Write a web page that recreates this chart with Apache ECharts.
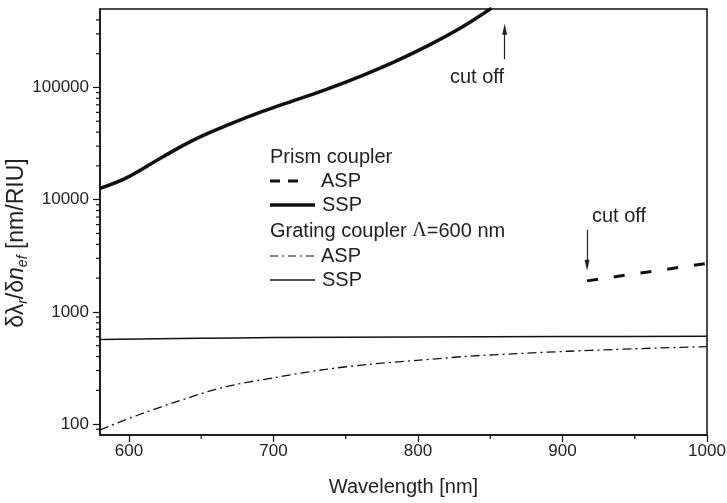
<!DOCTYPE html>
<html>
<head>
<meta charset="utf-8">
<script src="https://cdn.jsdelivr.net/npm/echarts@6/dist/echarts.min.js"></script>
<style>
  html, body { margin: 0; padding: 0; background: #fff; }
  #chart { width: 727px; height: 503px; }
</style>
</head>
<body>
<div id="chart"></div>
<script>
// Prism coupler, symmetric surface plasmon (ends at cut off near 850 nm)
const wlPrismSSP  = [580, 599, 623, 646, 669, 692, 715, 738, 761, 784, 807, 830, 851];
const valPrismSSP = [12600, 15800, 23900, 34600, 46600, 60800, 77000, 97600, 127000, 170000, 236000, 342000, 510000];

// Prism coupler, antisymmetric surface plasmon (starts at cut off near 917 nm)
const wlPrismASP  = [917, 958, 1000];
const valPrismASP = [1890, 2260, 2705];

// Grating coupler, period 600 nm
const wlGratingASP  = [580, 606, 632, 666, 701, 735, 766, 801, 835, 869, 904, 935, 967, 1000];
const valGratingASP = [89, 120, 157, 214, 260, 306, 341, 371, 403, 425, 446, 462, 477, 491];
const wlGratingSSP  = [580, 650, 700, 800, 900, 1000];
const valGratingSSP = [567, 582, 590, 598, 603, 607];

// Axis ranges and minor tick values
const xRange = [580, 1000];
const yRange = [80, 500000];
const xMinorTicks = [650, 750, 850, 950];
const yMinorTicks = [90, 200, 300, 400, 500, 600, 700, 800, 900,
                     2000, 3000, 4000, 5000, 6000, 7000, 8000, 9000,
                     20000, 30000, 40000, 50000, 60000, 70000, 80000, 90000,
                     200000, 300000, 400000];

// Cut-off arrows: [wavelength, from value, to value]
const cutoffPrism = [860, 178000, 330000];
const cutoffASP = [917, 5400, 2600];

const zip = (xs, ys) => xs.map((x, i) => [x, ys[i]]);

const INK = '#111';
const TEXT = '#222';
const FONT = '"Liberation Sans", Arial, sans-serif';

function arrow(spec) {
  return [[
    { coord: [spec[0], spec[1]], symbol: 'none' },
    { coord: [spec[0], spec[2]], symbol: 'triangle', symbolSize: [5, 11] }
  ]];
}

const chart = echarts.init(document.getElementById('chart'), null, { renderer: 'canvas' });

const option = {
  animation: false,
  backgroundColor: '#fff',
  textStyle: { fontFamily: FONT, color: TEXT },
  grid: {
    left: 100, right: 20, top: 9, bottom: 68,
    outerBoundsMode: 'none', containLabel: false,
    show: true, borderColor: INK, borderWidth: 1.5, backgroundColor: 'transparent'
  },
  xAxis: {
    type: 'value',
    min: xRange[0], max: xRange[1],
    name: 'Wavelength [nm]',
    nameLocation: 'middle', nameGap: 42,
    nameTextStyle: { fontSize: 20, color: TEXT, fontFamily: FONT },
    axisLine: { lineStyle: { color: INK, width: 1.5 } },
    axisTick: { inside: false, length: 7, lineStyle: { color: INK, width: 1.2 } },
    axisLabel: {
      fontSize: 17, color: TEXT, margin: 8, showMinLabel: false, fontFamily: FONT,
      formatter: v => String(Math.round(v))
    },
    splitLine: { show: false }
  },
  yAxis: {
    type: 'log', logBase: 10,
    min: yRange[0], max: yRange[1],
    axisLine: { lineStyle: { color: INK, width: 1.5 } },
    axisTick: { inside: false, length: 7, lineStyle: { color: INK, width: 1.2 } },
    axisLabel: {
      fontSize: 17, color: TEXT, margin: 11, fontFamily: FONT,
      showMinLabel: false, showMaxLabel: false,
      formatter: v => String(Math.round(v))
    },
    splitLine: { show: false }
  },
  series: [
    {
      name: 'Prism SSP', type: 'line', data: zip(wlPrismSSP, valPrismSSP),
      showSymbol: false, smooth: 0.4, clip: true,
      lineStyle: { color: INK, width: 3.5 },
      markLine: {
        silent: true, animation: false, label: { show: false },
        lineStyle: { color: TEXT, width: 1.2, type: 'solid' },
        itemStyle: { color: TEXT },
        data: arrow(cutoffPrism)
      }
    },
    {
      name: 'Prism ASP', type: 'line', data: zip(wlPrismASP, valPrismASP),
      showSymbol: false,
      lineStyle: { color: INK, width: 3, type: [11, 16] },
      markLine: {
        silent: true, animation: false, label: { show: false },
        lineStyle: { color: TEXT, width: 1.2, type: 'solid' },
        itemStyle: { color: TEXT },
        data: arrow(cutoffASP)
      }
    },
    {
      name: 'Grating ASP', type: 'line', data: zip(wlGratingASP, valGratingASP),
      showSymbol: false, smooth: 0.3,
      lineStyle: { color: INK, width: 1.3, type: [9, 4, 2, 4] }
    },
    {
      name: 'Grating SSP', type: 'line', data: zip(wlGratingSSP, valGratingSSP),
      showSymbol: false, smooth: 0.3,
      lineStyle: { color: INK, width: 1.5 }
    },
    {
      // minor ticks on the logarithmic axis
      type: 'custom', silent: true, clip: false, z: 5,
      data: yMinorTicks.map(v => [xRange[0], v]),
      renderItem: (params, api) => {
        const p = api.coord([api.value(0), api.value(1)]);
        return { type: 'line', shape: { x1: p[0] - 4, y1: p[1], x2: p[0], y2: p[1] },
                 style: { stroke: INK, lineWidth: 1.2 } };
      }
    },
    {
      // minor ticks on the wavelength axis
      type: 'custom', silent: true, clip: false, z: 5,
      data: xMinorTicks.map(v => [v, yRange[0]]),
      renderItem: (params, api) => {
        const p = api.coord([api.value(0), api.value(1)]);
        return { type: 'line', shape: { x1: p[0], y1: p[1], x2: p[0], y2: p[1] + 4 },
                 style: { stroke: INK, lineWidth: 1.2 } };
      }
    }
  ],
  graphic: [
    // y axis title with subscripts
    {
      type: 'text', x: 17, y: 243, rotation: Math.PI / 2,
      style: {
        text: '{t|δλ}{s|r}{t|/δ}{i|n}{s|ef}{t| [nm/RIU]}',
        align: 'center', verticalAlign: 'middle',
        rich: {
          t: { font: '23px ' + FONT, fill: TEXT, lineHeight: 26 },
          i: { font: 'italic 23px ' + FONT, fill: TEXT, lineHeight: 26 },
          s: { font: 'italic 14px ' + FONT, fill: TEXT, lineHeight: 14, verticalAlign: 'bottom' }
        }
      }
    },

    { type: 'text', left: 450, top: 67, style: { text: 'cut off', font: '20px ' + FONT, fill: TEXT } },
    { type: 'text', left: 592, top: 206, style: { text: 'cut off', font: '20px ' + FONT, fill: TEXT } },

    // key
    { type: 'text', x: 270, y: 157, style: { text: 'Prism coupler', font: '20px ' + FONT, fill: TEXT, verticalAlign: 'middle' } },
    { type: 'line', shape: { x1: 270, y1: 181, x2: 300, y2: 181 }, style: { stroke: INK, lineWidth: 3, lineDash: [10, 8] } },
    { type: 'text', x: 321, y: 181, style: { text: 'ASP', font: '20px ' + FONT, fill: TEXT, verticalAlign: 'middle' } },
    { type: 'line', shape: { x1: 270, y1: 205, x2: 315, y2: 205 }, style: { stroke: INK, lineWidth: 3.5 } },
    { type: 'text', x: 322, y: 205, style: { text: 'SSP', font: '20px ' + FONT, fill: TEXT, verticalAlign: 'middle' } },
    {
      type: 'text', x: 270, y: 231,
      style: {
        text: '{a|Grating coupler }{g|Λ}{a|=600 nm}',
        verticalAlign: 'middle',
        rich: {
          a: { font: '20px ' + FONT, fill: TEXT },
          g: { font: '20px "Liberation Serif", "Times New Roman", serif', fill: TEXT }
        }
      }
    },
    { type: 'line', shape: { x1: 270, y1: 256, x2: 315, y2: 256 }, style: { stroke: INK, lineWidth: 1.2, lineDash: [8, 4, 2, 4] } },
    { type: 'text', x: 321, y: 256, style: { text: 'ASP', font: '20px ' + FONT, fill: TEXT, verticalAlign: 'middle' } },
    { type: 'line', shape: { x1: 270, y1: 280, x2: 315, y2: 280 }, style: { stroke: INK, lineWidth: 1.5 } },
    { type: 'text', x: 322, y: 280, style: { text: 'SSP', font: '20px ' + FONT, fill: TEXT, verticalAlign: 'middle' } }
  ]
};

chart.setOption(option);
</script>
</body>
</html>
